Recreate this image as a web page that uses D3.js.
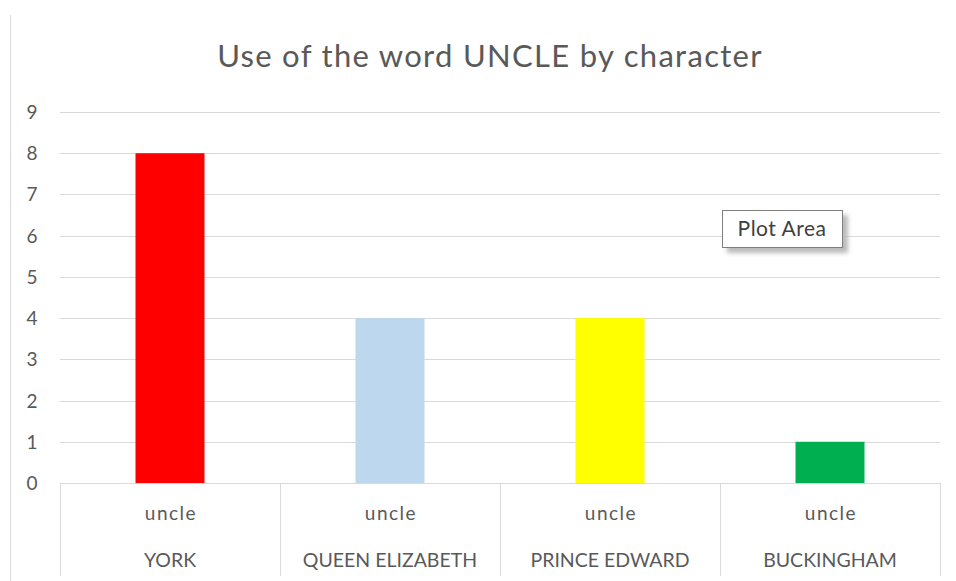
<!DOCTYPE html>
<html>
<head>
<meta charset="utf-8">
<script src="https://cdn.jsdelivr.net/npm/d3@7"></script>
<style>
  body { margin: 0; background: #fff; }
  svg text { font-family: Lato, "Open Sans", sans-serif; fill: #595959; }
</style>
</head>
<body>
<svg id="chart" width="956" height="581"></svg>
<script>
const characters = ["YORK", "QUEEN ELIZABETH", "PRINCE EDWARD", "BUCKINGHAM"];
const words = ["uncle", "uncle", "uncle", "uncle"];
const counts = [8, 4, 4, 1];
const barColors = ["#FF0000", "#BDD7EE", "#FFFF00", "#00B050"];
const yTicks = [0, 1, 2, 3, 4, 5, 6, 7, 8, 9];

const width = 956, height = 581;
const margin = {left: 60, right: 16, top: 112, bottom: 98};

const svg = d3.select("#chart");

// chart frame edge on the left
svg.append("line")
  .attr("x1", 10.5).attr("x2", 10.5)
  .attr("y1", 15).attr("y2", height)
  .attr("stroke", "#d9d9d9");

svg.append("text")
  .attr("x", 490).attr("y", 67)
  .attr("text-anchor", "middle")
  .attr("font-size", "31px")
  .attr("letter-spacing", "1.3px")
  .text("Use of the word UNCLE by character");

const x = d3.scaleBand()
  .domain(characters)
  .range([margin.left, width - margin.right]);

const y = d3.scaleLinear()
  .domain([0, 9])
  .range([height - margin.bottom, margin.top]);

// gridlines
svg.append("g")
  .selectAll("line")
  .data(yTicks.filter(d => d > 0))
  .enter()
  .append("line")
  .attr("x1", margin.left).attr("x2", width - margin.right)
  .attr("y1", d => Math.round(y(d)) + 0.5)
  .attr("y2", d => Math.round(y(d)) + 0.5)
  .attr("stroke", "#d9d9d9");

// y labels
svg.append("g")
  .selectAll("text")
  .data(yTicks)
  .enter()
  .append("text")
  .attr("x", 32)
  .attr("y", d => y(d) + 7)
  .attr("text-anchor", "middle")
  .attr("font-size", "19px")
  .text(d => d);

// bars
const barWidth = 69;
svg.append("g")
  .selectAll("rect")
  .data(characters)
  .enter()
  .append("rect")
  .attr("x", d => x(d) + x.bandwidth() / 2 - barWidth / 2)
  .attr("y", (d, i) => y(counts[i]))
  .attr("width", barWidth)
  .attr("height", (d, i) => y(0) - y(counts[i]))
  .attr("fill", (d, i) => barColors[i]);

// category axis (two levels)
const axisG = svg.append("g");
axisG.append("line")
  .attr("x1", margin.left).attr("x2", width - margin.right)
  .attr("y1", Math.round(y(0)) + 0.5).attr("y2", Math.round(y(0)) + 0.5)
  .attr("stroke", "#d9d9d9");

const edges = characters.map(d => x(d)).concat([x.range()[1]]);
axisG.selectAll("line.sep")
  .data(edges)
  .enter()
  .append("line")
  .attr("class", "sep")
  .attr("x1", d => Math.round(d) + 0.5).attr("x2", d => Math.round(d) + 0.5)
  .attr("y1", y(0)).attr("y2", 576)
  .attr("stroke", "#d9d9d9");

axisG.selectAll("text.word")
  .data(characters)
  .enter()
  .append("text")
  .attr("class", "word")
  .attr("x", d => x(d) + x.bandwidth() / 2 + 1)
  .attr("y", 520)
  .attr("text-anchor", "middle")
  .attr("font-size", "19px")
  .attr("letter-spacing", "1.5px")
  .text((d, i) => words[i]);

axisG.selectAll("text.cat")
  .data(characters)
  .enter()
  .append("text")
  .attr("class", "cat")
  .attr("x", d => x(d) + x.bandwidth() / 2)
  .attr("y", 567)
  .attr("text-anchor", "middle")
  .attr("font-size", "19.5px")
  .text(d => d);

// "Plot Area" tooltip
const tip = svg.append("g").attr("transform", "translate(722,210)");
tip.append("rect")
  .attr("x", 5).attr("y", 5)
  .attr("width", 121).attr("height", 38)
  .attr("fill", "#bbb")
  .attr("filter", "blur(2px)");
tip.append("rect")
  .attr("x", 0.5).attr("y", 0.5)
  .attr("width", 120).attr("height", 37)
  .attr("fill", "#fff")
  .attr("stroke", "#7f7f7f");
tip.append("text")
  .attr("x", 60).attr("y", 26)
  .attr("text-anchor", "middle")
  .attr("font-size", "21px")
  .attr("letter-spacing", "0.5px")
  .style("fill", "#404040")
  .text("Plot Area");
</script>
</body>
</html>
